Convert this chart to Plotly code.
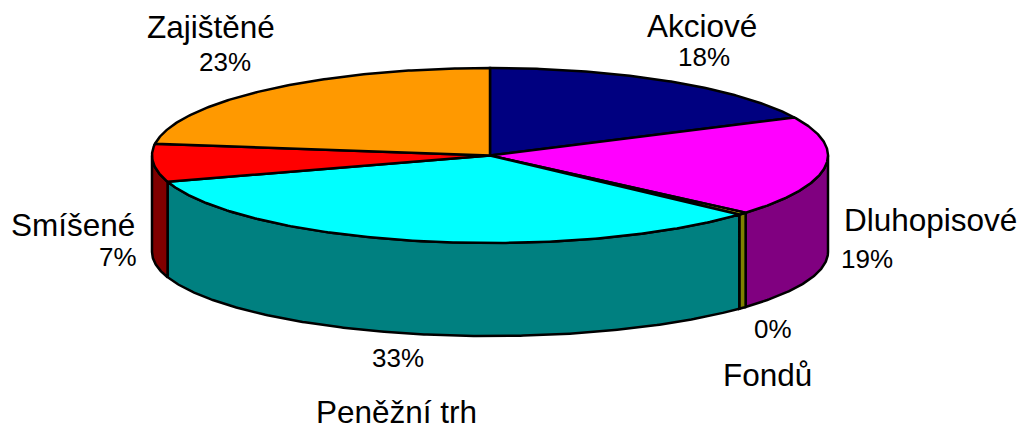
import numpy as np
import plotly.graph_objects as go

categories = ["Akciové", "Dluhopisové", "Fondů", "Peněžní trh", "Smíšené", "Zajištěné"]
values = [17.85, 18.5, 0.45, 33.35, 7.0, 22.85]
percent_labels = ["18%", "19%", "0%", "33%", "7%", "23%"]
top_colors = ["#000080", "#FF00FF", "#FFFF00", "#00FFFF", "#FF0000", "#FF9900"]
side_colors = ["#000040", "#800080", "#808000", "#008080", "#800000", "#804C00"]

CX, CY, RX, RY = 490.0, 155.5, 338.0, 87.5
BOTTOM_CY, BOTTOM_RY = 252.0, 84.0
FONT = "Liberation Sans, Arial, sans-serif"


def rim(a0, a1, cy=CY, ry=RY):
    """Rim points for an angle span given in degrees clockwise from 12 o'clock."""
    n = max(2, int(abs(a1 - a0) * 2) + 2)
    t = np.radians(np.linspace(a0, a1, n))
    return CX + RX * np.sin(t), cy - ry * np.cos(t)


fig = go.Figure()
edges = np.concatenate([[0.0], np.cumsum(values)]) / sum(values) * 360.0

# Side walls: only the front half of the disc (90 deg to 270 deg) is visible.
for i, cat in enumerate(categories):
    a0, a1 = max(edges[i], 90.0), min(edges[i + 1], 270.0)
    if a1 <= a0:
        continue
    x, y = rim(a0, a1)
    xb, yb = rim(a0, a1, BOTTOM_CY, BOTTOM_RY)
    fig.add_trace(go.Scatter(
        x=np.concatenate([x, xb[::-1], x[:1]]),
        y=np.concatenate([y, yb[::-1], y[:1]]),
        mode="lines", fill="toself", fillcolor=side_colors[i],
        line=dict(color="black", width=2.5), hoverinfo="skip", showlegend=False,
    ))

# Top wedges
for i, cat in enumerate(categories):
    x, y = rim(edges[i], edges[i + 1])
    fig.add_trace(go.Scatter(
        x=np.concatenate([[CX], x, [CX]]),
        y=np.concatenate([[CY], y, [CY]]),
        mode="lines", fill="toself", fillcolor=top_colors[i],
        line=dict(color="black", width=2.5), name=cat, showlegend=False,
    ))

name_pos = [(702, 26), (930, 220), (767, 375), (396, 412), (73, 225), (211, 27)]
pct_pos = [(704, 57), (867, 259), (773, 329), (398, 358), (118, 257), (225, 62)]
for i, cat in enumerate(categories):
    fig.add_annotation(x=name_pos[i][0], y=name_pos[i][1], text=cat, showarrow=False,
                       font=dict(family=FONT, size=31.5, color="black"))
    fig.add_annotation(x=pct_pos[i][0], y=pct_pos[i][1], text=percent_labels[i], showarrow=False,
                       font=dict(family=FONT, size=26, color="black"))

fig.update_layout(
    width=1021, height=431, margin=dict(l=0, r=0, t=0, b=0),
    paper_bgcolor="white", plot_bgcolor="white",
    xaxis=dict(range=[0, 1021], visible=False, fixedrange=True),
    yaxis=dict(range=[431, 0], visible=False, fixedrange=True),
)
fig.write_html("out.html", config={"displayModeBar": False},
               post_script="document.body.style.margin='0';document.body.style.overflow='hidden';")
